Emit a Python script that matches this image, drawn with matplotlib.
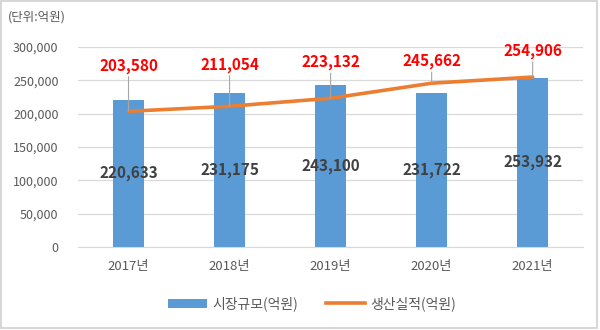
import matplotlib
matplotlib.use("Agg")
import matplotlib.pyplot as plt
from matplotlib.lines import Line2D
from matplotlib.patches import Patch, Rectangle
from matplotlib.ticker import FuncFormatter, MultipleLocator

plt.rcParams["font.family"] = ["Noto Sans CJK KR", "DejaVu Sans"]

years = ["2017년", "2018년", "2019년", "2020년", "2021년"]
market = [220633, 231175, 243100, 231722, 253932]      # 시장규모 (bars)
production = [203580, 211054, 223132, 245662, 254906]  # 생산실적 (line)

# how far (points) each red label sits above its line point
label_lift = [27, 24, 20, 10, 13]

BAR = "#5B9BD5"
LINE = "#ED7D31"
GRID = "#D9D9D9"
TXT = "#595959"

fig = plt.figure(figsize=(6, 3.3), dpi=100)
ax = fig.add_axes([0.13, 0.2515, 0.842, 0.6061])
x = list(range(len(years)))

ax.bar(x, market, width=0.31, color=BAR, zorder=2)
ax.plot(x, production, color=LINE, lw=2.6, solid_capstyle="round", zorder=3)

for xi, v in zip(x, market):
    ax.text(xi, v / 2, f"{v:,}", ha="center", va="center", fontsize=11,
            fontweight="bold", color="#404040", zorder=4)

for xi, v, lift in zip(x, production, label_lift):
    ax.annotate(f"{v:,}", xy=(xi, v), xytext=(0, lift), textcoords="offset points",
                ha="center", va="bottom", fontsize=11, fontweight="bold", color="#FF0000",
                arrowprops=dict(arrowstyle="-", color="#A6A6A6", lw=0.8,
                                shrinkA=0, shrinkB=0), zorder=4)

ax.set_xlim(-0.5, len(years) - 0.5)
ax.set_ylim(0, 300000)
ax.yaxis.set_major_locator(MultipleLocator(50000))
ax.yaxis.set_major_formatter(FuncFormatter(lambda v, _: f"{v:,.0f}"))
ax.set_xticks(x, years)
ax.grid(axis="y", color=GRID, lw=0.9, zorder=0)
ax.set_axisbelow(True)
for side in ("top", "right", "left"):
    ax.spines[side].set_visible(False)
ax.spines["bottom"].set_color(GRID)
ax.tick_params(axis="both", length=0, colors=TXT, labelsize=9)
ax.tick_params(axis="x", pad=9, labelsize=9.5)
ax.tick_params(axis="y", pad=14)

fig.text(0.013, 0.948, "(단위:억원)", fontsize=9, color=TXT, va="center", ha="left")

handles = [Patch(facecolor=BAR, edgecolor="none"),
           Line2D([0], [0], color=LINE, lw=2.6)]
fig.legend(handles, ["시장규모(억원)", "생산실적(억원)"], loc="center",
           bbox_to_anchor=(0.52, 0.08), ncol=2, frameon=False, fontsize=10,
           labelcolor=TXT, handlelength=2.8, handleheight=0.6, columnspacing=2.0,
           handletextpad=0.4)

# thin frame round the whole chart
fig.add_artist(Rectangle((0.002, 0.006), 0.993, 0.99, transform=fig.transFigure,
                         fill=False, edgecolor="#D0D0D0", lw=1.2))

fig.savefig("out.png", dpi=100, facecolor="white")
